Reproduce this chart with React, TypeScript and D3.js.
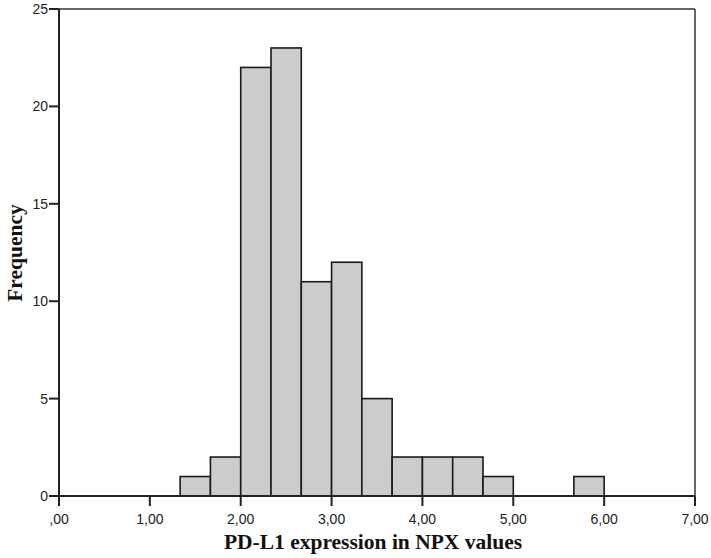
import React from "react";
import * as d3 from "d3";

const binStarts = [1.3333, 1.6667, 2.0, 2.3333, 2.6667, 3.0, 3.3333, 3.6667, 4.0, 4.3333, 4.6667, 5.0, 5.3333, 5.6667];
const binWidth = 1 / 3;
const frequencies = [1, 2, 22, 23, 11, 12, 5, 2, 2, 2, 1, 0, 0, 1];
const xTicks = [0, 1, 2, 3, 4, 5, 6, 7];
const xTickLabels = [",00", "1,00", "2,00", "3,00", "4,00", "5,00", "6,00", "7,00"];
const yTicks = [0, 5, 10, 15, 20, 25];

const W = 711;
const H = 558;
const left = 59;
const right = 695;
const top = 9;
const bottom = 496;

export default function App() {
  const x = d3.scaleLinear().domain([0, 7]).range([left, right]);
  const y = d3.scaleLinear().domain([0, 25]).range([bottom, top]);
  const tickFont = "'Liberation Sans', Arial, sans-serif";
  const titleFont = "'Liberation Serif', 'Times New Roman', serif";
  return (
    <svg width={W} height={H} style={{ position: "absolute", left: 0, top: 0, background: "#fff" }}>
      {/* frame top & right */}
      <line x1={left} x2={right} y1={top} y2={top} stroke="#333" strokeWidth={1.5} />
      <line x1={right} x2={right} y1={top} y2={bottom} stroke="#333" strokeWidth={1.5} />
      {binStarts.map((b, i) =>
        frequencies[i] > 0 ? (
          <rect
            key={i}
            x={x(b)}
            y={y(frequencies[i])}
            width={x(b + binWidth) - x(b)}
            height={y(0) - y(frequencies[i])}
            fill="#cccccc"
            stroke="#1a1a1a"
            strokeWidth={1.6}
          />
        ) : null
      )}
      {/* axes */}
      <line x1={left} x2={left} y1={top} y2={bottom} stroke="#222" strokeWidth={2} />
      <line x1={left} x2={right} y1={bottom} y2={bottom} stroke="#222" strokeWidth={2} />
      {yTicks.map((t) => (
        <g key={t}>
          <line x1={left - 10} x2={left} y1={y(t)} y2={y(t)} stroke="#222" strokeWidth={2} />
          <text x={left - 11} y={y(t)} dy="0.35em" textAnchor="end" fontFamily={tickFont} fontSize={14} fill="#222">
            {t}
          </text>
        </g>
      ))}
      {xTicks.map((t, i) => (
        <g key={t}>
          <line x1={x(t)} x2={x(t)} y1={bottom} y2={bottom + 10} stroke="#222" strokeWidth={2} />
          <text x={x(t)} y={bottom + 23} dy="0.35em" textAnchor="middle" fontFamily={tickFont} fontSize={14} fill="#222">
            {xTickLabels[i]}
          </text>
        </g>
      ))}
      <text
        x={373}
        y={549}
        textAnchor="middle"
        fontFamily={titleFont}
        fontWeight="bold"
        fontSize={21.5}
        fill="#111"
      >
        PD-L1 expression in NPX values
      </text>
      <text
        transform={`translate(22, 253) rotate(-90)`}
        textAnchor="middle"
        fontFamily={titleFont}
        fontWeight="bold"
        fontSize={21.5}
        fill="#111"
      >
        Frequency
      </text>
    </svg>
  );
}
